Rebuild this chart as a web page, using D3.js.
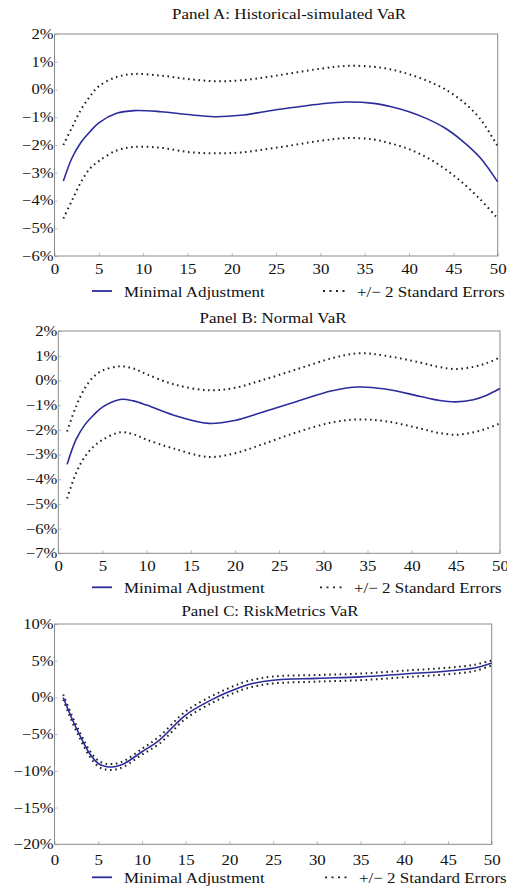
<!DOCTYPE html>
<html>
<head>
<meta charset="utf-8">
<script src="https://d3js.org/d3.v7.min.js"></script>
<style>
  body { margin: 0; background: #fff; }
  svg text { font-family: "Liberation Serif", "Times New Roman", serif; fill: #111; }
</style>
</head>
<body>
<svg id="chart" width="507" height="888"></svg>
<script>
// horizon knots (x) and curve values (%)
const xA = [1, 2, 3, 4, 5, 7, 9, 12, 15, 18, 21, 25, 30, 33, 36, 38, 40, 42, 44, 46, 48, 50];
const midA = [-3.3, -2.45, -1.9, -1.52, -1.2, -0.86, -0.76, -0.8, -0.9, -0.98, -0.93, -0.73, -0.52, -0.45, -0.5, -0.62, -0.8, -1.05, -1.38, -1.85, -2.45, -3.33];
const upA = [-2.0, -1.35, -0.72, -0.25, 0.12, 0.45, 0.56, 0.5, 0.38, 0.3, 0.33, 0.5, 0.75, 0.85, 0.82, 0.72, 0.55, 0.32, 0.02, -0.42, -1.05, -2.05];
const loA = [-4.65, -3.98, -3.33, -2.85, -2.58, -2.2, -2.07, -2.1, -2.25, -2.3, -2.27, -2.1, -1.85, -1.75, -1.8, -1.95, -2.15, -2.45, -2.85, -3.35, -3.95, -4.65];

const xB = [1, 2, 3, 4, 5, 7, 8.5, 10, 13, 17, 20, 23, 27, 31, 34, 37, 41, 43, 45, 47, 48.5, 50];
const midB = [-3.4, -2.4, -1.8, -1.4, -1.08, -0.77, -0.83, -1.0, -1.4, -1.74, -1.62, -1.3, -0.85, -0.42, -0.27, -0.35, -0.65, -0.8, -0.87, -0.78, -0.6, -0.33];
const upB = [-2.07, -1.06, -0.32, 0.15, 0.4, 0.57, 0.48, 0.25, -0.15, -0.4, -0.3, 0.0, 0.45, 0.9, 1.1, 1.0, 0.72, 0.55, 0.46, 0.55, 0.7, 0.93];
const loB = [-4.78, -3.76, -3.09, -2.68, -2.41, -2.1, -2.18, -2.4, -2.75, -3.1, -2.95, -2.6, -2.1, -1.7, -1.58, -1.65, -1.95, -2.12, -2.2, -2.1, -1.95, -1.74];

const xC = [1, 2, 3, 4, 5, 6, 7, 8, 10, 12, 15, 18, 20, 22, 25, 30, 35, 40, 45, 48, 50];
const midC = [0.0, -2.9, -5.4, -7.6, -9.0, -9.45, -9.4, -9.0, -7.4, -5.8, -2.4, -0.3, 0.8, 1.7, 2.35, 2.6, 2.8, 3.2, 3.6, 4.0, 4.7];
const upC = [0.4, -2.5, -5.0, -7.2, -8.6, -9.05, -9.0, -8.6, -7.0, -5.3, -1.9, 0.2, 1.3, 2.2, 2.85, 3.05, 3.25, 3.65, 4.05, 4.45, 5.05];
const loC = [-0.3, -3.3, -5.8, -8.0, -9.4, -9.85, -9.8, -9.4, -7.8, -6.3, -2.9, -0.75, 0.35, 1.25, 1.9, 2.15, 2.35, 2.75, 3.15, 3.6, 4.35];

const xTicks = [0, 5, 10, 15, 20, 25, 30, 35, 40, 45, 50];
const yTicksA = [2, 1, 0, -1, -2, -3, -4, -5, -6];
const yTicksB = [2, 1, 0, -1, -2, -3, -4, -5, -6, -7];
const yTicksC = [10, 5, 0, -5, -10, -15, -20];

const titles = ["Panel A: Historical-simulated VaR", "Panel B: Normal VaR", "Panel C: RiskMetrics VaR"];
const legendLabels = ["Minimal Adjustment", "+/\u2212 2 Standard Errors"];

const svg = d3.select("#chart");
const blue = "#2b2b9c";

function pct(d) { return (d < 0 ? "\u2212" : "") + Math.abs(d) + "%"; }

// the source type is a wide serif: stretch Times-like glyphs sideways
function widen(sel, k) {
  sel.each(function () {
    const w = this.getComputedTextLength();
    d3.select(this).attr("textLength", w * k).attr("lengthAdjust", "spacingAndGlyphs");
  });
}

function panel(p) {
  const x = d3.scaleLinear().domain([0, 50]).range([p.left, p.right]);
  const y = d3.scaleLinear().domain([p.yTicks[p.yTicks.length - 1], p.yTicks[0]]).range([p.bottom, p.top]);
  const g = svg.append("g");

  g.append("text").attr("x", p.titleX).attr("y", p.titleY).attr("text-anchor", "middle")
    .style("font-size", "15px").text(p.title)
    .attr("textLength", p.titleW).attr("lengthAdjust", "spacingAndGlyphs");

  g.append("g").attr("transform", "translate(0," + p.bottom + ")")
    .call(d3.axisBottom(x).tickValues(xTicks).tickSize(-3).tickPadding(p.xPad))
    .call(a => a.select(".domain").remove())
    .call(a => a.selectAll("line").attr("stroke", "#bbb"))
    .call(a => a.selectAll("text").style("font-size", "13.8px").style("font-family", "Liberation Serif").call(widen, 1.22));

  g.append("g").attr("transform", "translate(" + p.left + ",0)")
    .call(d3.axisLeft(y).tickValues(p.yTicks).tickFormat(pct).tickSize(-3).tickPadding(1))
    .call(a => a.select(".domain").remove())
    .call(a => a.selectAll("line").attr("stroke", "#bbb"))
    .call(a => a.selectAll("text").style("font-size", "13.8px").style("font-family", "Liberation Serif").call(widen, 1.2));

  g.append("rect").attr("x", p.left).attr("y", p.top)
    .attr("width", p.right - p.left).attr("height", p.bottom - p.top)
    .attr("fill", "none").attr("stroke", "#8a8a8a").attr("stroke-width", 1);

  const line = vals => d3.line()
    .x((d, i) => x(p.xs[i])).y(d => y(d))
    .curve(d3.curveCatmullRom.alpha(0.5))(vals);

  [p.up, p.lo].forEach(vals => {
    g.append("path").attr("d", line(vals)).attr("fill", "none")
      .attr("stroke", "#222").attr("stroke-width", 2)
      .attr("stroke-dasharray", "1.6,3.6");
  });
  g.append("path").attr("d", line(p.mid)).attr("fill", "none")
    .attr("stroke", blue).attr("stroke-width", 1.6);

  // legend
  const ly = p.legendY;
  g.append("line").attr("x1", 92).attr("x2", 112).attr("y1", ly).attr("y2", ly)
    .attr("stroke", blue).attr("stroke-width", 1.8);
  g.append("text").attr("x", 124).attr("y", ly + 5.5).style("font-size", "15px")
    .text(legendLabels[0]).call(widen, 1.13);
  g.append("line").attr("x1", p.dotX).attr("x2", p.dotX + 22).attr("y1", ly).attr("y2", ly)
    .attr("stroke", "#222").attr("stroke-width", 1.8).attr("stroke-dasharray", "2,4.5");
  g.append("text").attr("x", p.dotX + 34).attr("y", ly + 5.5).style("font-size", "15px")
    .text(legendLabels[1]).call(widen, 1.13);
}

panel({ title: titles[0], titleX: 289, titleY: 19, titleW: 234, left: 54.5, right: 497.7, top: 34, bottom: 256,
  yTicks: yTicksA, xs: xA, mid: midA, up: upA, lo: loA, xPad: 8, legendY: 291, dotX: 323 });
panel({ title: titles[1], titleX: 273, titleY: 322.5, titleW: 147, left: 58.3, right: 500, top: 331, bottom: 553.3,
  yTicks: yTicksB, xs: xB, mid: midB, up: upB, lo: loB, xPad: 8, legendY: 587.3, dotX: 320 });
panel({ title: titles[2], titleX: 270, titleY: 616, titleW: 177, left: 54.5, right: 491.7, top: 624, bottom: 844.3,
  yTicks: yTicksC, xs: xC, mid: midC, up: upC, lo: loC, xPad: 11, legendY: 877.3, dotX: 325 });
</script>
</body>
</html>
